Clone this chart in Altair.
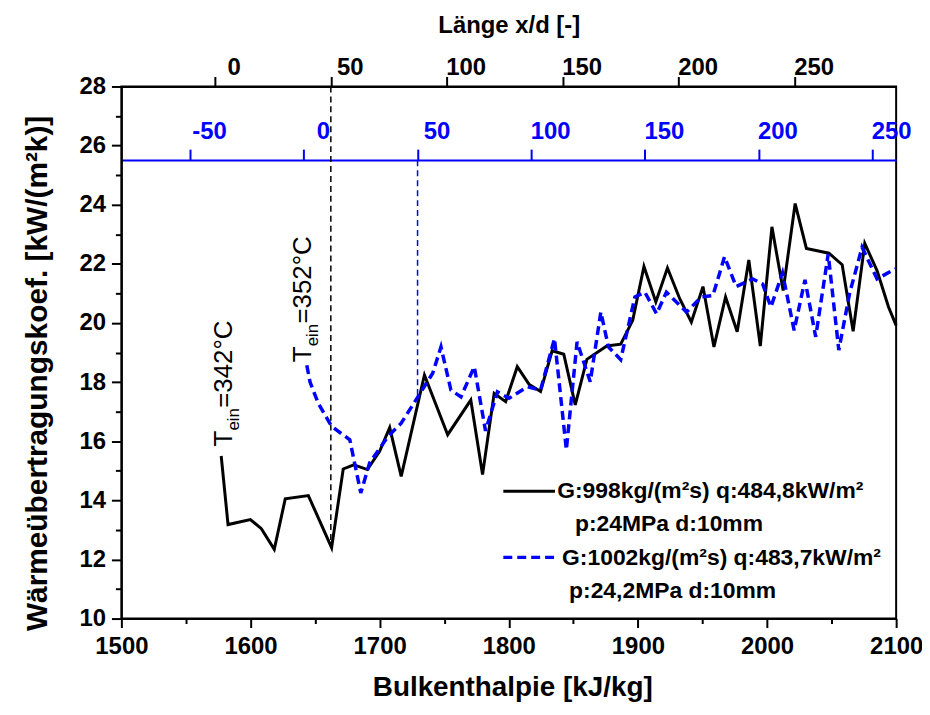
import altair as alt
import pandas as pd

FONT = "Liberation Sans"

# ---------------- data ----------------
H_black = [1577.3, 1582.6, 1599.9, 1608.4, 1618.4, 1626.9, 1644.8, 1662.8, 1671.8, 1680.0,
           1690.5, 1700.0, 1707.8, 1716.7, 1734.7, 1752.7, 1770.6, 1779.7, 1788.7, 1797.6,
           1806.6, 1815.6, 1824.6, 1833.6, 1842.6, 1851.5, 1860.5, 1875.9, 1886.7, 1896.0,
           1904.7, 1913.9, 1922.9, 1932.4, 1941.4, 1950.4, 1958.9, 1967.9, 1976.9, 1985.9,
           1994.8, 2003.8, 2012.5, 2021.8, 2030.5, 2047.9, 2058.2, 2066.7, 2075.7, 2085.2,
           2094.1, 2100.0]
V_black = [15.50, 13.18, 13.35, 13.04, 12.34, 14.05, 14.16, 12.40, 15.06, 15.20,
           15.04, 15.66, 16.46, 14.81, 18.24, 16.22, 17.39, 14.87, 17.62, 17.34,
           18.52, 17.93, 17.68, 19.06, 18.94, 17.23, 18.77, 19.22, 19.28, 20.09,
           21.91, 20.71, 21.86, 20.82, 20.03, 21.23, 19.19, 20.88, 19.70, 22.13,
           19.22, 23.25, 21.10, 24.04, 22.52, 22.36, 21.97, 19.72, 22.69, 21.77,
           20.54, 19.92]

H_blue = [1643.6, 1646.1, 1652.5, 1662.8, 1676.9, 1685.4, 1692.3, 1706.5, 1716.7, 1729.6,
          1741.1, 1747.5, 1755.2, 1763.0, 1773.3, 1782.0, 1791.2, 1800.2, 1814.3, 1824.6,
          1835.4, 1844.6, 1852.9, 1863.1, 1871.3, 1877.2, 1886.7, 1897.7, 1905.4, 1914.5,
          1922.1, 1937.6, 1949.2, 1958.1, 1967.1, 1976.1, 1988.9, 1996.6, 2003.0, 2012.0,
          2021.0, 2029.4, 2037.7, 2047.4, 2055.6, 2063.9, 2073.6, 2085.2, 2099.4]
V_blue = [18.57, 18.00, 17.28, 16.50, 16.05, 14.25, 15.27, 16.16, 16.61, 17.50,
          18.30, 19.19, 17.73, 17.50, 18.52, 16.35, 17.67, 17.45, 17.84, 17.73,
          19.47, 15.71, 19.36, 18.01, 20.37, 19.19, 18.76, 20.88, 21.04, 20.31,
          21.04, 20.37, 20.88, 20.93, 22.24, 21.23, 21.49, 21.32, 20.54, 21.69,
          19.75, 21.46, 19.53, 22.33, 19.08, 20.99, 22.56, 21.49, 21.83]

# top axes (x/d) scale ranges and marker positions
XD_black_domain = [-40.31, 293.74]
XD_blue_domain = [-80.27, 260.5]
XD_black_ticks = [0, 50, 100, 150, 200, 250]
XD_blue_ticks = [-50, 0, 50, 100, 150, 200, 250]
XD_black_marker = 50      # black dashed vertical line (x/d)
XD_blue_marker = 50       # blue dashed vertical line (x/d)
BLACK_MARK_Y = [28.0, 12.4]
BLUE_MARK_Y = [25.5, 17.5]

# annotations
ANN_H = [1585.5, 1647.1]
ANN_V = [15.82, 18.67]
ANN_TEXT = ["=342°C", "=352°C"]

# legend
LEG_LINE_H = [1795.8, 1835.8]
LEG_LINE_V = [14.31, 12.07]
LEG_TEXT = ["G:998kg/(m²s) q:484,8kW/m²", "p:24MPa d:10mm",
            "G:1002kg/(m²s) q:483,7kW/m²", "p:24,2MPa d:10mm"]
LEG_TEXT_H = [1837.5, 1851.3, 1841.3, 1846.7]
LEG_TEXT_V = [14.30, 13.19, 12.04, 10.93]

BLUE = "#0000ff"

# ---------------- scales / encodings ----------------
xscale = alt.Scale(domain=[1500, 2100], nice=False, zero=False)
yscale = alt.Scale(domain=[10, 28], nice=False, zero=False)

x_axis = alt.Axis(
    values=list(range(1500, 2101, 50)),
    labelExpr="datum.value % 100 === 0 ? datum.label : ''",
    format="d",
    orient="bottom",
    tickSize={"condition": {"test": "datum.value % 100 === 0", "value": 9}, "value": 5},
    labelFontSize=24, labelPadding=7, labelBaseline="top", labelFlush=False,
    title="Bulkenthalpie [kJ/kg]", titleFontSize=28,
    titleX=393, titleY=77, titleAlign="center", titleBaseline="alphabetic",
)
y_axis = alt.Axis(
    values=list(range(10, 29)),
    labelExpr="datum.value % 2 === 0 ? datum.label : ''",
    format="d",
    tickSize={"condition": {"test": "datum.value % 2 === 0", "value": 10}, "value": 6},
    labelFontSize=24, labelPadding=6, labelFlush=False,
    title="Wärmeübertragungskoef. [kW/(m²k)]", titleFontSize=30,
    titleAngle=270, titleX=-75, titleY=288, titleAlign="center", titleBaseline="alphabetic",
)


def X(field):
    return alt.X(field, scale=xscale, axis=x_axis)


def Y(field):
    return alt.Y(field, scale=yscale, axis=y_axis)


df_black = pd.DataFrame({"H": H_black, "v": V_black, "i": range(len(H_black))})
df_blue = pd.DataFrame({"H": H_blue, "v": V_blue, "i": range(len(H_blue))})

black_line = alt.Chart(df_black).mark_line(color="black", strokeWidth=3).encode(
    x=X("H:Q"), y=Y("v:Q"), order="i:Q",
)
blue_line = alt.Chart(df_blue).mark_line(color=BLUE, strokeWidth=3.5, strokeDash=[9, 5]).encode(
    x=X("H:Q"), y=Y("v:Q"), order="i:Q",
)

# annotations (rotated, with subscript)
df_ann = pd.DataFrame({"H": ANN_H, "v": ANN_V, "t": ANN_TEXT})
ann_common = dict(angle=270, align="left", baseline="alphabetic", font=FONT, color="black")
ann_T = alt.Chart(df_ann).mark_text(text="T", fontSize=26, **ann_common).encode(x=X("H:Q"), y=Y("v:Q"))
ann_sub = alt.Chart(df_ann).mark_text(text="ein", fontSize=17, dx=16, dy=7, **ann_common).encode(
    x=X("H:Q"), y=Y("v:Q"))
ann_main = alt.Chart(df_ann).mark_text(fontSize=26, dx=39, **ann_common).encode(
    x=X("H:Q"), y=Y("v:Q"), text="t:N")

# legend
df_leg_black = pd.DataFrame({"x1": [LEG_LINE_H[0]], "x2": [LEG_LINE_H[1]], "y": [LEG_LINE_V[0]]})
df_leg_blue = pd.DataFrame({"x1": [LEG_LINE_H[0]], "x2": [LEG_LINE_H[1]], "y": [LEG_LINE_V[1]]})
leg_black = alt.Chart(df_leg_black).mark_rule(color="black", strokeWidth=3).encode(
    x=X("x1:Q"), x2="x2:Q", y=Y("y:Q"))
leg_blue = alt.Chart(df_leg_blue).mark_rule(color=BLUE, strokeWidth=3.5, strokeDash=[9, 5]).encode(
    x=X("x1:Q"), x2="x2:Q", y=Y("y:Q"))
df_leg_text = pd.DataFrame({"H": LEG_TEXT_H, "v": LEG_TEXT_V, "t": LEG_TEXT})
leg_text = alt.Chart(df_leg_text).mark_text(
    align="left", baseline="middle", font=FONT, fontSize=23, fontWeight="bold", color="black"
).encode(x=X("H:Q"), y=Y("v:Q"), text="t:N")

main = alt.layer(black_line, blue_line, ann_T, ann_sub, ann_main, leg_black, leg_blue, leg_text)

# top black axis x/d with marker line
df_top = pd.DataFrame({"xd": [XD_black_marker], "y1": [BLACK_MARK_Y[0]], "y2": [BLACK_MARK_Y[1]]})
top_layer = alt.Chart(df_top).mark_rule(color="black", strokeWidth=1.5, strokeDash=[6, 4]).encode(
    x=alt.X("xd:Q", scale=alt.Scale(domain=XD_black_domain, nice=False, zero=False),
            axis=alt.Axis(orient="top", values=XD_black_ticks, tickSize=10, labelOffset=19,
                          labelBaseline="alphabetic", labelPadding=2, labelFontSize=24,
                          labelExpr="'' + datum.value", labelFlush=False,
                          title="Länge x/d [-]", titleFontSize=24, titleX=389.5, titleY=-54,
                          titleAlign="center", titleBaseline="alphabetic")),
    y=Y("y1:Q"), y2="y2:Q",
)

df_topb = pd.DataFrame({"xb": [XD_blue_marker], "y1": [BLUE_MARK_Y[0]], "y2": [BLUE_MARK_Y[1]]})
blue_layer = alt.Chart(df_topb).mark_rule(color=BLUE, strokeWidth=1.5, strokeDash=[6, 4]).encode(
    x=alt.X("xb:Q", scale=alt.Scale(domain=XD_blue_domain, nice=False, zero=False),
            axis=alt.Axis(orient="top", offset=-74, values=XD_blue_ticks, tickSize=11, labelOffset=19,
                          labelBaseline="alphabetic", labelPadding=11, labelFontSize=24,
                          labelExpr="'' + datum.value", labelFlush=False,
                          domainColor=BLUE, tickColor=BLUE, labelColor=BLUE, title=None)),
    y=Y("y1:Q"), y2="y2:Q",
)

chart = alt.layer(main, top_layer, blue_layer).resolve_scale(x="independent").properties(
    width=779, height=535,
    autosize=alt.AutoSizeParams(type="none"),
    padding={"left": 114, "top": 77, "right": 26, "bottom": 83},
    background="white",
).configure_view(stroke="black", strokeWidth=2).configure_axis(
    grid=False, domainColor="black", domainWidth=2, tickColor="black", tickWidth=2,
    labelFont=FONT, titleFont=FONT, labelFontWeight="bold", titleFontWeight="bold",
    labelColor="black", titleColor="black",
)

chart.save("out.html", embed_options={"renderer": "svg", "actions": False})
